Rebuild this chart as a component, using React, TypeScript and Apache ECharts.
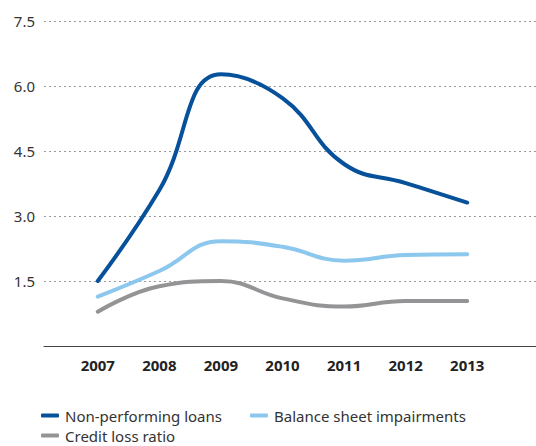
import React, { useEffect, useRef } from "react";
import * as echarts from "echarts";

const years = ["2007", "2008", "2009", "2010", "2011", "2012", "2013"];
const nonPerforming = [1.5, 3.6, 6.27, 5.72, 4.2, 3.76, 3.31];
const balanceImpairments = [1.14, 1.73, 2.42, 2.29, 1.97, 2.1, 2.12];
const creditLoss = [0.79, 1.38, 1.5, 1.1, 0.91, 1.04, 1.04];
const yTicks = { min: 0, max: 7.5, interval: 1.5 };

const FONT = "'Noto Sans', 'Open Sans', sans-serif";
const C_DARK = "#06519a";
const C_LIGHT = "#8cc7ee";
const C_GRAY = "#949497";

export default function App() {
  const ref = useRef<HTMLDivElement>(null);
  useEffect(() => {
    if (!ref.current) return;
    const chart = echarts.init(ref.current, null, { renderer: "svg" });
    const legendBase = {
      orient: "horizontal",
      icon: "roundRect",
      itemWidth: 18,
      itemHeight: 4,
      itemGap: 5,
      textStyle: { fontSize: 15, color: "#333", fontFamily: FONT, padding: [0, 0, 0, 1] },
      selectedMode: false,
      padding: 0,
    };
    chart.setOption({
      animation: false,
      grid: [
        { left: 44, right: 0, top: 21, height: 325 },
        { left: 67, width: 431, top: 21, height: 325 },
      ],
      xAxis: [
        {
          gridIndex: 0,
          type: "value",
          min: 0,
          max: 1,
          axisLine: { show: true, lineStyle: { color: "#444", width: 1 } },
          axisTick: { show: false },
          axisLabel: { show: false },
          splitLine: { show: false },
        },
        {
          gridIndex: 1,
          type: "category",
          data: years,
          boundaryGap: true,
          axisLine: { show: false },
          axisTick: { show: false },
          axisLabel: {
            fontSize: 15,
            fontWeight: "bold",
            color: "#222",
            fontFamily: FONT,
            margin: 11,
          },
        },
      ],
      yAxis: [
        {
          gridIndex: 0,
          type: "value",
          min: yTicks.min,
          max: yTicks.max,
          interval: yTicks.interval,
          axisLine: { show: false },
          axisTick: { show: false },
          axisLabel: {
            showMinLabel: false,
            formatter: (v: number) => v.toFixed(1),
            fontSize: 15,
            color: "#333",
            fontFamily: FONT,
            margin: 9,
          },
          splitLine: {
            show: true,
            lineStyle: { color: "#9a9a9a", type: [2, 3], width: 1 },
          },
        },
        {
          gridIndex: 1,
          type: "value",
          min: yTicks.min,
          max: yTicks.max,
          interval: yTicks.interval,
          show: false,
          splitLine: { show: false },
        },
      ],
      legend: [
        { ...legendBase, left: 41, top: 408, data: ["Non-performing loans"] },
        { ...legendBase, left: 250, top: 408, data: ["Balance sheet impairments"] },
        { ...legendBase, left: 41, top: 428, data: ["Credit loss ratio"] },
      ],
      series: [
        {
          name: "Credit loss ratio",
          type: "line",
          xAxisIndex: 1,
          yAxisIndex: 1,
          data: creditLoss,
          smooth: 0.45,
          showSymbol: false,
          color: C_GRAY,
          lineStyle: { width: 4, color: C_GRAY, cap: "round" },
        },
        {
          name: "Balance sheet impairments",
          type: "line",
          xAxisIndex: 1,
          yAxisIndex: 1,
          data: balanceImpairments,
          smooth: 0.45,
          showSymbol: false,
          color: C_LIGHT,
          lineStyle: { width: 4, color: C_LIGHT, cap: "round" },
        },
        {
          name: "Non-performing loans",
          type: "line",
          xAxisIndex: 1,
          yAxisIndex: 1,
          data: nonPerforming,
          smooth: 0.45,
          showSymbol: false,
          color: C_DARK,
          lineStyle: { width: 4, color: C_DARK, cap: "round" },
        },
      ],
    });
    return () => chart.dispose();
  }, []);
  return <div ref={ref} style={{ width: 536, height: 446, position: "absolute", left: 0, top: 0 }} />;
}
